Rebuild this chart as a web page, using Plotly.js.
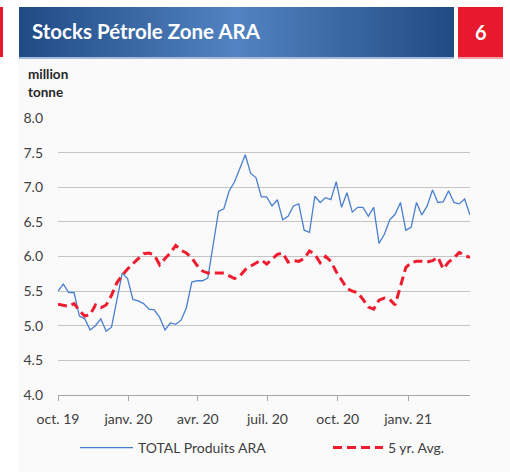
<!DOCTYPE html>
<html>
<head>
<meta charset="utf-8">
<script src="https://cdn.plot.ly/plotly-3.0.1.min.js"></script>
<style>
  html, body { margin: 0; padding: 0; background: #ffffff; }
  #chart { width: 510px; height: 472px; }
</style>
</head>
<body>
<div id="chart"></div>
<script>
// weekly stocks, million tonnes, first week 1 Oct 2019
let weekStart = '2019-10-01';
let weekMs = 7 * 24 * 3600 * 1000;

let totalARA = [
  5.50, 5.60, 5.48, 5.48, 5.14, 5.10, 4.94, 5.00, 5.10, 4.92,
  4.98, 5.37, 5.76, 5.68, 5.38, 5.36, 5.32, 5.24, 5.23, 5.12,
  4.94, 5.04, 5.02, 5.08, 5.26, 5.63, 5.65, 5.65, 5.69, 6.17,
  6.65, 6.69, 6.95, 7.08, 7.27, 7.47, 7.20, 7.14, 6.86, 6.86,
  6.73, 6.82, 6.53, 6.58, 6.73, 6.76, 6.38, 6.35, 6.87, 6.78,
  6.85, 6.82, 7.08, 6.71, 6.92, 6.64, 6.71, 6.71, 6.58, 6.71,
  6.19, 6.32, 6.53, 6.61, 6.78, 6.38, 6.42, 6.78, 6.60, 6.73,
  6.96, 6.78, 6.79, 6.95, 6.78, 6.76, 6.83, 6.60
];

let avg5yr = [
  5.31, 5.29, 5.28, 5.32, 5.22, 5.14, 5.16, 5.30, 5.26, 5.30,
  5.44, 5.62, 5.73, 5.82, 5.90, 5.97, 6.04, 6.05, 6.02, 5.88,
  5.97, 6.05, 6.16, 6.09, 6.05, 5.98, 5.87, 5.79, 5.76, 5.76,
  5.77, 5.76, 5.72, 5.68, 5.72, 5.81, 5.86, 5.91, 5.95, 5.89,
  5.96, 6.03, 6.05, 5.92, 5.94, 5.93, 5.97, 6.08, 6.03, 5.91,
  6.00, 5.93, 5.78, 5.66, 5.54, 5.50, 5.48, 5.38, 5.27, 5.24,
  5.37, 5.40, 5.38, 5.30, 5.58, 5.84, 5.91, 5.93, 5.93, 5.92,
  5.94, 5.99, 5.82, 5.92, 5.98, 6.06, 6.01, 5.99
];

let tickDates = ['2019-10-01', '2020-01-01', '2020-04-01', '2020-07-01', '2020-10-01', '2021-01-01'];
let tickNames = ['oct. 19', 'janv. 20', 'avr. 20', 'juil. 20', 'oct. 20', 'janv. 21'];
let seriesNames = ['TOTAL Produits ARA', '5 yr. Avg.'];

// plot box in pixels
let L = 58, R = 470, T = 118, B = 395;
let W = R - L, H = B - T;
function fx(px) { return (px - L) / W; }
function fy(py) { return (B - py) / H; }

let bg = "<svg xmlns='http://www.w3.org/2000/svg' width='510' height='472' viewBox='0 0 510 472'>" +
  "<defs><linearGradient id='g' x1='0' x2='1' y1='0' y2='0'>" +
  "<stop offset='0' stop-color='#204a84'/><stop offset='0.5' stop-color='#5283c2'/><stop offset='1' stop-color='#214a82'/>" +
  "</linearGradient></defs>" +
  "<rect x='18' y='59' width='492' height='413' fill='#fafafa'/>" +
  "<rect x='19' y='7' width='435' height='50' fill='url(#g)'/>" +
  "<rect x='19' y='57' width='435' height='2' fill='#a3bad8'/>" +
  "<rect x='458' y='7' width='45' height='50' fill='#e8192c'/>" +
  "<rect x='458' y='57' width='45' height='2' fill='#f2a3ab'/>" +
  "<rect x='0' y='7' width='3' height='50' fill='#e8192c'/>" +
  "</svg>";

let first = {
  x0: weekStart,
  dx: weekMs,
  y: totalARA,
  type: 'scatter',
  mode: 'lines',
  name: seriesNames[0],
  legend: 'legend',
  line: { color: '#4a7fcf', width: 1.3 }
};

let second = {
  x0: weekStart,
  dx: weekMs,
  y: avg5yr,
  type: 'scatter',
  mode: 'lines',
  name: seriesNames[1],
  legend: 'legend2',
  line: { color: '#ee1c2e', width: 3, dash: '9px,5px' }
};

let legendBase = {
  orientation: 'h',
  xref: 'container', yref: 'container',
  xanchor: 'left',
  y: 1 - 448 / 472, yanchor: 'middle',
  bgcolor: 'rgba(0,0,0,0)',
  font: { size: 14, color: '#404040' }
};

let layout = {
  width: 510,
  height: 472,
  margin: { l: L, r: 510 - R, t: T, b: 472 - B },
  paper_bgcolor: '#ffffff',
  plot_bgcolor: 'rgba(0,0,0,0)',
  font: { family: 'Lato, "Open Sans", sans-serif', size: 14, color: '#404040' },
  title: {
    text: '<b>Stocks Pétrole Zone ARA</b>',
    font: { family: 'Lato, sans-serif', size: 20.5, color: '#ffffff' },
    xref: 'container', yref: 'container',
    x: 32 / 510, xanchor: 'left',
    y: 1 - 32 / 472, yanchor: 'middle'
  },
  xaxis: {
    type: 'date',
    range: ['2019-10-01', '2021-03-23'],
    tickvals: tickDates,
    ticktext: tickNames,
    ticks: 'outside',
    ticklen: 5,
    tickcolor: '#a6a6a6',
    showline: true,
    linecolor: '#a6a6a6',
    showgrid: false,
    zeroline: false,
    ticklabelstandoff: 6,
    tickfont: { size: 14, color: '#404040' }
  },
  yaxis: {
    range: [4, 8],
    dtick: 0.5,
    tickformat: '.1f',
    showgrid: true,
    gridcolor: '#c4c4c4',
    gridwidth: 1,
    zeroline: false,
    showline: false,
    ticks: '',
    ticklabelstandoff: 14,
    tickfont: { size: 14, color: '#404040' }
  },
  showlegend: true,
  legend: Object.assign({}, legendBase, { x: 75 / 510, itemwidth: 53 }),
  legend2: Object.assign({}, legendBase, { x: 328 / 510, itemwidth: 50 }),
  annotations: [
    {
      text: '<b>million<br>tonne</b>',
      xref: 'paper', yref: 'paper',
      x: fx(26), xanchor: 'left',
      y: fy(83), yanchor: 'middle',
      align: 'left',
      showarrow: false,
      font: { size: 13.5, color: '#262626' }
    },
    {
      text: '<b>6</b>',
      xref: 'paper', yref: 'paper',
      x: fx(480.5), xanchor: 'center',
      y: fy(32), yanchor: 'middle',
      showarrow: false,
      font: { size: 20, color: '#ffffff' }
    }
  ],
  images: [
    {
      source: 'data:image/svg+xml;charset=utf-8,' + encodeURIComponent(bg),
      xref: 'paper', yref: 'paper',
      x: fx(0), y: fy(0),
      sizex: 510 / W, sizey: 472 / H,
      xanchor: 'left', yanchor: 'top',
      sizing: 'stretch',
      layer: 'below'
    }
  ]
};

Plotly.newPlot('chart', [first, second], layout, { displayModeBar: false, staticPlot: true });
</script>
</body>
</html>
